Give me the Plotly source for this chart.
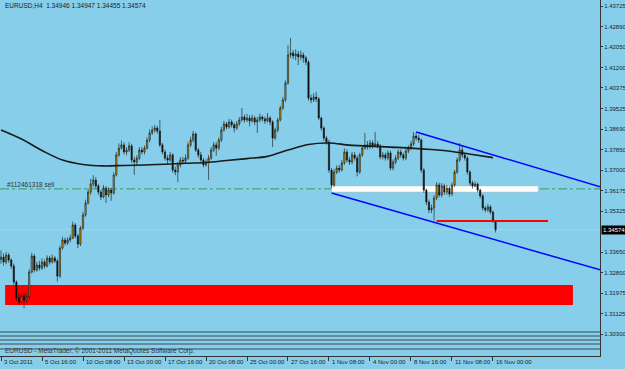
import plotly.graph_objects as go

# ---------------- data (EURUSD H4) ----------------
bars = list(range(194))
first_open = 1.3335
close = [1.3345,1.3325,1.3353,1.3333,1.3308,1.3243,1.3178,1.3161,1.3186,1.3169,
         1.3182,1.3284,1.3349,1.3292,1.3312,1.3300,1.3325,1.3308,1.3341,1.3325,
         1.3341,1.3329,1.3267,1.3382,1.3415,1.3402,1.3415,1.3423,1.3476,1.3431,
         1.3398,1.3464,1.3517,1.3566,1.3611,1.3644,1.3660,1.3636,1.3611,1.3591,
         1.3627,1.3599,1.3619,1.3607,1.3681,1.3763,1.3791,1.3804,1.3775,1.3783,
         1.3800,1.3742,1.3734,1.3750,1.3783,1.3775,1.3791,1.3824,1.3853,1.3865,
         1.3873,1.3861,1.3804,1.3775,1.3750,1.3742,1.3763,1.3701,1.3693,1.3722,
         1.3742,1.3738,1.3750,1.3804,1.3824,1.3849,1.3783,1.3763,1.3742,1.3722,
         1.3734,1.3750,1.3783,1.3804,1.3791,1.3824,1.3865,1.3890,1.3877,1.3898,
         1.3886,1.3873,1.3890,1.3906,1.3918,1.3906,1.3914,1.3902,1.3914,1.3898,
         1.3906,1.3918,1.3910,1.3902,1.3914,1.3898,1.3832,1.3865,1.3906,1.3955,
         1.3988,1.4057,1.4172,1.4180,1.4168,1.4176,1.4164,1.4172,1.4160,1.4143,
         1.3996,1.3988,1.4000,1.3992,1.3914,1.3873,1.3832,1.3816,1.3701,1.3640,
         1.3693,1.3709,1.3701,1.3730,1.3775,1.3742,1.3734,1.3763,1.3750,1.3693,
         1.3763,1.3791,1.3804,1.3795,1.3812,1.3800,1.3808,1.3800,1.3755,1.3763,
         1.3750,1.3771,1.3709,1.3734,1.3750,1.3775,1.3763,1.3750,1.3779,1.3791,
         1.3808,1.3840,1.3832,1.3824,1.3701,1.3619,1.3570,1.3538,1.3546,1.3587,
         1.3640,1.3599,1.3636,1.3611,1.3627,1.3603,1.3640,1.3693,1.3742,1.3783,
         1.3763,1.3750,1.3693,1.3648,1.3636,1.3644,1.3619,1.3595,1.3546,1.3538,
         1.3550,1.3529,1.34946,1.34574]
high = [1.3372,1.3360,1.3366,1.3362,1.3340,1.3318,1.3250,1.3195,1.3198,1.3200,
        1.3195,1.3295,1.3362,1.3358,1.3325,1.3330,1.3340,1.3335,1.3352,1.3350,
        1.3355,1.3350,1.3338,1.3392,1.3428,1.3425,1.3426,1.3436,1.3490,1.3484,
        1.3440,1.3472,1.3530,1.3580,1.3625,1.3665,1.3680,1.3672,1.3645,1.3620,
        1.3640,1.3635,1.3630,1.3628,1.3692,1.3775,1.3810,1.3822,1.3815,1.3795,
        1.3815,1.3808,1.3755,1.3762,1.3795,1.3795,1.3802,1.3835,1.3868,1.3880,
        1.3886,1.3882,1.3906,1.3812,1.3785,1.3762,1.3775,1.3770,1.3715,1.3735,
        1.3755,1.3755,1.3765,1.3815,1.3838,1.3862,1.3855,1.3792,1.3775,1.3750,
        1.3745,1.3762,1.3795,1.3815,1.3815,1.3835,1.3878,1.3902,1.3898,1.3910,
        1.3908,1.3895,1.3902,1.3918,1.3955,1.3928,1.3930,1.3925,1.3928,1.3922,
        1.3918,1.3932,1.3925,1.3920,1.3935,1.3922,1.3905,1.3875,1.3915,1.3965,
        1.4000,1.4068,1.4213,1.4242,1.4192,1.4195,1.4188,1.4190,1.4182,1.4168,
        1.4150,1.4010,1.4015,1.4021,1.4000,1.3920,1.3880,1.3840,1.3825,1.3710,
        1.3705,1.3720,1.3722,1.3742,1.3790,1.3785,1.3755,1.3775,1.3775,1.3760,
        1.3772,1.3802,1.3853,1.3820,1.3825,1.3822,1.3857,1.3820,1.3808,1.3775,
        1.3772,1.3782,1.3780,1.3745,1.3762,1.3785,1.3785,1.3772,1.3790,1.3802,
        1.3820,1.3857,1.3852,1.3845,1.3830,1.3708,1.3625,1.3580,1.3560,1.3598,
        1.3652,1.3650,1.3648,1.3645,1.3640,1.3635,1.3650,1.3702,1.3752,1.3812,
        1.3800,1.3772,1.3758,1.3700,1.3658,1.3655,1.3650,1.3625,1.3602,1.3555,
        1.3562,1.3558,1.3535,1.34947]
low = [1.3318,1.3310,1.3316,1.3322,1.3296,1.3232,1.3165,1.3150,1.3152,1.3136,
       1.3158,1.3175,1.3278,1.3282,1.3285,1.3290,1.3292,1.3298,1.3302,1.3315,
       1.3318,1.3320,1.3245,1.3260,1.3375,1.3392,1.3395,1.3406,1.3418,1.3422,
       1.3382,1.3390,1.3455,1.3510,1.3560,1.3600,1.3632,1.3625,1.3600,1.3578,
       1.3585,1.3566,1.3590,1.3575,1.3600,1.3675,1.3755,1.3785,1.3765,1.3762,
       1.3775,1.3730,1.3681,1.3722,1.3742,1.3765,1.3765,1.3785,1.3815,1.3845,
       1.3855,1.3850,1.3795,1.3765,1.3740,1.3725,1.3735,1.3690,1.3680,1.3652,
       1.3712,1.3725,1.3728,1.3742,1.3795,1.3815,1.3775,1.3752,1.3735,1.3712,
       1.3715,1.3660,1.3742,1.3775,1.3760,1.3782,1.3815,1.3858,1.3868,1.3870,
       1.3875,1.3855,1.3865,1.3882,1.3900,1.3895,1.3898,1.3880,1.3895,1.3885,
       1.3853,1.3898,1.3900,1.3890,1.3895,1.3885,1.3795,1.3825,1.3855,1.3900,
       1.3948,1.3980,1.4050,1.4160,1.4155,1.4150,1.4131,1.4150,1.4140,1.4130,
       1.3985,1.3975,1.3980,1.3980,1.3905,1.3862,1.3820,1.3805,1.3690,1.3627,
       1.3632,1.3685,1.3690,1.3695,1.3722,1.3732,1.3722,1.3725,1.3740,1.3675,
       1.3685,1.3755,1.3785,1.3785,1.3788,1.3790,1.3795,1.3790,1.3745,1.3745,
       1.3740,1.3742,1.3700,1.3700,1.3725,1.3742,1.3752,1.3740,1.3742,1.3770,
       1.3782,1.3800,1.3822,1.3812,1.3690,1.3608,1.3558,1.3525,1.3525,1.3495,
       1.3578,1.3590,1.3590,1.3600,1.3600,1.3592,1.3595,1.3632,1.3685,1.3735,
       1.3752,1.3740,1.3682,1.3638,1.3625,1.3630,1.3610,1.3585,1.3535,1.3528,
       1.3530,1.3520,1.3485,1.34455]
opens = [first_open] + close[:-1]

# moving average (read every 8 bars)
ma_bars = [0, 8, 16, 24, 32, 40, 48, 56, 64, 72, 80, 88, 96, 104, 112, 120,
           128, 136, 144, 152, 160, 168, 176, 184, 192]
ma_vals = [1.3865, 1.3828, 1.3781, 1.3742, 1.3724, 1.3718, 1.3720, 1.3722,
           1.3725, 1.3729, 1.3732, 1.3740, 1.3748, 1.3757, 1.3783, 1.3806,
           1.3812, 1.3803, 1.3799, 1.3795, 1.3791, 1.3785, 1.3777, 1.3765, 1.3752]

# channel lines
upper_bars = [162, 234]
upper_vals = [1.3857, 1.3632]
lower_bars = [129, 234]
lower_vals = [1.3607, 1.3292]

# levels
sell_level = 1.3624
bid_price = 1.34574
red_level = 1.3493
red_level_bars = [170, 213.5]
white_zone_bars = [129, 209.6]
white_zone = [1.3611, 1.3636]
red_zone_bars = [1.6, 223.2]
red_zone = [1.3149, 1.3231]

# axes
price_ticks = [1.43725, 1.42890, 1.42050, 1.41200, 1.40375, 1.39525, 1.38690,
               1.37850, 1.37000, 1.36175, 1.35325, 1.33650, 1.32800, 1.31975,
               1.31125, 1.30300]
time_tick_bars = [0, 16, 32, 48, 64, 80, 96, 112, 128, 144, 160, 176, 192]
time_tick_text = ["3 Oct 2011", "5 Oct 16:00", "10 Oct 08:00", "13 Oct 00:00",
                  "17 Oct 16:00", "20 Oct 08:00", "25 Oct 00:00", "27 Oct 16:00",
                  "1 Nov 08:00", "4 Nov 00:00", "8 Nov 16:00", "11 Nov 08:00",
                  "16 Nov 00:00"]

BG = "#87CEEB"
FONT = "Liberation Sans"
FS = 6

fig = go.Figure()
fig.add_trace(go.Candlestick(
    x=bars, open=opens, high=high, low=low, close=close,
    increasing=dict(line=dict(color="#111111", width=0.6), fillcolor="#D4A017"),
    decreasing=dict(line=dict(color="#111111", width=0.6), fillcolor="#111111"),
    whiskerwidth=0, showlegend=False, hoverinfo="skip"))

fig.add_trace(go.Scatter(x=ma_bars, y=ma_vals, mode="lines",
                         line=dict(color="#1a1a1a", width=1.6, shape="spline"),
                         showlegend=False, hoverinfo="skip"))
fig.add_trace(go.Scatter(x=upper_bars, y=upper_vals, mode="lines",
                         line=dict(color="#0000FF", width=1.5), showlegend=False))
fig.add_trace(go.Scatter(x=lower_bars, y=lower_vals, mode="lines",
                         line=dict(color="#0000FF", width=1.5), showlegend=False))

shapes = []
shapes.append(dict(type="rect", xref="x", yref="y", x0=red_zone_bars[0], x1=red_zone_bars[1],
                   y0=red_zone[0], y1=red_zone[1], fillcolor="#FF0000", line=dict(width=0),
                   layer="below"))
shapes.append(dict(type="rect", xref="x", yref="y", x0=white_zone_bars[0], x1=white_zone_bars[1],
                   y0=white_zone[0], y1=white_zone[1], fillcolor="#FFFFFF",
                   line=dict(width=0.5, color="#bbbbbb"), layer="below"))
shapes.append(dict(type="line", xref="paper", yref="y", x0=0, x1=0.96,
                   y0=sell_level, y1=sell_level,
                   line=dict(color="#3C9A5A", width=1, dash="dashdot"), layer="below"))
shapes.append(dict(type="line", xref="paper", yref="y", x0=0, x1=0.96,
                   y0=bid_price, y1=bid_price,
                   line=dict(color="#C8C8C8", width=1), layer="below"))
shapes.append(dict(type="line", xref="x", yref="y", x0=red_level_bars[0], x1=red_level_bars[1],
                   y0=red_level, y1=red_level, line=dict(color="#FF0000", width=2)))

H = 369.0
def py(p):
    return 1 - p / H
shapes.append(dict(type="rect", xref="paper", yref="paper", x0=0, x1=0.96,
                   y0=py(356), y1=py(332), fillcolor=BG, line=dict(width=0)))
for yy in [332, 336, 340, 344, 349]:
    shapes.append(dict(type="line", xref="paper", yref="paper", x0=0, x1=0.96,
                       y0=py(yy), y1=py(yy), line=dict(color="#3a4a50", width=1)))

annotations = [
    dict(text="EURUSD,H4  1.34946 1.34947 1.34455 1.34574", xref="paper", yref="paper",
         x=3 / 625, y=py(6), xanchor="left", yanchor="middle", showarrow=False,
         font=dict(family=FONT, size=6.5, color="#222222")),
    dict(text="#112461318 sell", xref="paper", yref="y", x=5 / 625, y=sell_level,
         xanchor="left", yanchor="bottom", showarrow=False, yshift=-1,
         font=dict(family=FONT, size=6.5, color="#333333")),
    dict(text="EURUSD - MetaTrader, © 2001-2011 MetaQuotes Software Corp.", xref="paper",
         yref="paper", x=3 / 625, y=py(351), xanchor="left", yanchor="middle",
         showarrow=False, font=dict(family=FONT, size=6.5, color="#333333")),
    dict(text="1.34574", xref="paper", yref="y", x=601 / 625, y=bid_price,
         xanchor="left", yanchor="middle", showarrow=False, bgcolor="#000000",
         borderpad=1, font=dict(family=FONT, size=FS, color="#FFFFFF")),
]
# time labels, left-aligned at their ticks (MetaTrader style)
for tb, tt in zip(time_tick_bars, time_tick_text):
    annotations.append(dict(text=tt, xref="x", yref="paper", x=tb, y=py(362),
                            xanchor="left", yanchor="middle", showarrow=False, xshift=1,
                            font=dict(family=FONT, size=FS, color="#222222")))

fig.update_layout(
    width=625, height=369, margin=dict(l=0, r=0, t=0, b=0, autoexpand=False),
    paper_bgcolor=BG, plot_bgcolor=BG, showlegend=False,
    shapes=shapes, annotations=annotations,
    xaxis=dict(domain=[0, 0.96], range=[-0.39, 233.76], rangeslider=dict(visible=False),
               showgrid=False, zeroline=False, tickmode="array",
               tickvals=time_tick_bars, showticklabels=False,
               automargin=False,
               ticks="outside", ticklen=4, tickcolor="#333333",
               showline=True, linecolor="#333333", linewidth=1),
    yaxis=dict(domain=[13 / 369, 1], range=[1.29400, 1.43971], side="right",
               showgrid=False, zeroline=False, tickmode="array", automargin=False,
               tickvals=price_ticks, ticktext=[f"{v:.5f}" for v in price_ticks],
               ticks="outside", ticklen=2, tickcolor="#333333",
               showline=True, mirror=True, linecolor="#333333", linewidth=1,
               tickfont=dict(family=FONT, size=FS, color="#222222")),
)

fig.write_html("out.html")
